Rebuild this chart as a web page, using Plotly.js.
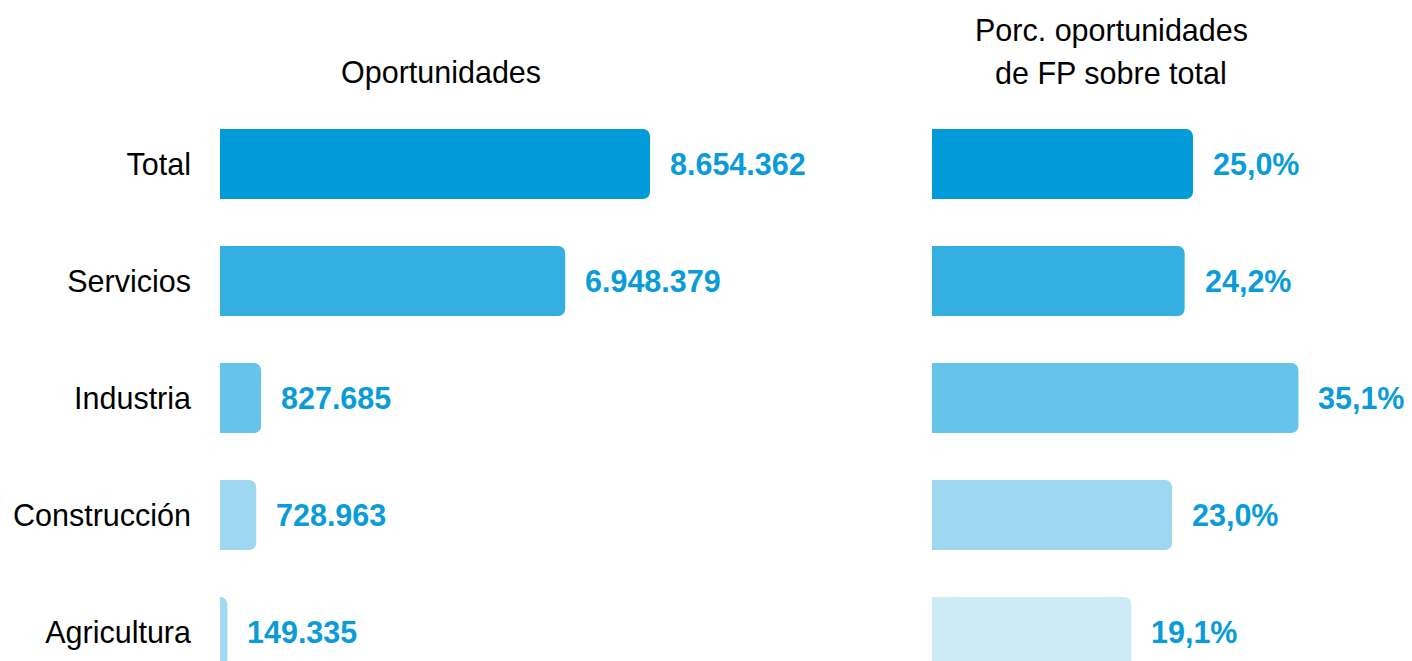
<!DOCTYPE html>
<html>
<head>
<meta charset="utf-8">
<script src="https://cdn.plot.ly/plotly-3.0.1.min.js"></script>
<style>html,body{margin:0;padding:0;background:#fff;}#chart{width:1412px;height:661px;}</style>
</head>
<body>
<div id="chart"></div>
<script>
const categories = ["Total", "Servicios", "Industria", "Construcción", "Agricultura"];
const oportunidades = [8654362, 6948379, 827685, 728963, 149335];
const porcentajeFP = [25.0, 24.2, 35.1, 23.0, 19.1];
const barColorsLeft = ["#009BD8", "#33AFE2", "#66C3EA", "#9DD8F0", "#A3DAF1"];
const barColorsRight = ["#009BD8", "#33AFE2", "#66C3EA", "#9DD8F0", "#CDEBF6"];
const titleLeft = "Oportunidades";
const titleRightLines = ["Porc. oportunidades", "de FP sobre total"];

const FONT = '"Liberation Sans", Arial, sans-serif';
const FS = 30.5;
const LABEL_COLOR = "#0A9CD8";

function fmtThousands(v) {
  return String(Math.round(v)).replace(/\B(?=(\d{3})+(?!\d))/g, ".");
}
function fmtPct(v) {
  return v.toFixed(1).replace(".", ",") + "%";
}

const traces = [
  {
    type: "bar", orientation: "h",
    x: oportunidades, y: categories,
    xaxis: "x", yaxis: "y",
    marker: {color: barColorsLeft, cornerradius: 7},
    width: 0.6, hoverinfo: "x+y"
  },
  {
    type: "bar", orientation: "h",
    x: porcentajeFP, y: categories,
    xaxis: "x2", yaxis: "y2",
    marker: {color: barColorsRight, cornerradius: 7},
    width: 0.6, hoverinfo: "x+y"
  }
];

const annotations = [];
categories.forEach((c, i) => {
  annotations.push({
    xref: "x", yref: "y", x: oportunidades[i], y: c,
    text: fmtThousands(oportunidades[i]), showarrow: false,
    xanchor: "left", yanchor: "middle", xshift: 18,
    font: {family: FONT, size: FS, color: LABEL_COLOR, weight: "bold"}
  });
  annotations.push({
    xref: "x2", yref: "y2", x: porcentajeFP[i], y: c,
    text: fmtPct(porcentajeFP[i]), showarrow: false,
    xanchor: "left", yanchor: "middle", xshift: 18,
    font: {family: FONT, size: FS, color: LABEL_COLOR, weight: "bold"}
  });
});
annotations.push({
  xref: "paper", yref: "paper", x: 441 / 1412, y: 1 - 73 / 661,
  text: titleLeft, showarrow: false, xanchor: "center", yanchor: "middle",
  font: {family: FONT, size: FS, color: "#000"}
});
[30, 73].forEach((py, k) => {
  annotations.push({
    xref: "paper", yref: "paper", x: 1111 / 1412, y: 1 - py / 661,
    text: titleRightLines[k], showarrow: false, xanchor: "center", yanchor: "middle",
    font: {family: FONT, size: FS, color: "#000"}
  });
});

const yRange = [4.2479, -1.4017];
const layout = {
  width: 1412, height: 661,
  margin: {l: 0, r: 0, t: 0, b: 0, pad: 0},
  paper_bgcolor: "#fff", plot_bgcolor: "#fff",
  showlegend: false,
  xaxis: {domain: [220 / 1412, 900 / 1412], range: [0, 13686000], visible: false, fixedrange: true},
  xaxis2: {domain: [932 / 1412, 1], range: [0, 45.98], visible: false, fixedrange: true},
  yaxis: {
    anchor: "x", type: "category", categoryorder: "array", categoryarray: categories,
    range: yRange, showgrid: false, zeroline: false, showline: false, ticks: "",
    ticklabelstandoff: 28,
    tickfont: {family: FONT, size: FS, color: "#000"}
  },
  yaxis2: {
    anchor: "x2", type: "category", categoryorder: "array", categoryarray: categories,
    range: yRange, showgrid: false, zeroline: false, showline: false, ticks: "",
    showticklabels: false
  },
  annotations: annotations
};

Plotly.newPlot("chart", traces, layout, {displayModeBar: false});
</script>
</body>
</html>
